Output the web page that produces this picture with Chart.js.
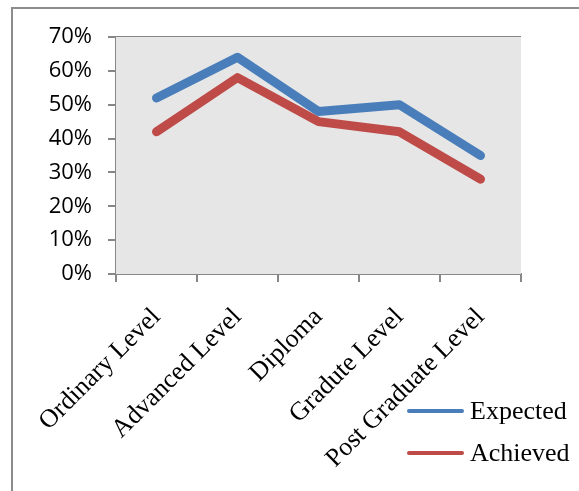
<!DOCTYPE html>
<html>
<head>
<meta charset="utf-8">
<script src="https://cdn.jsdelivr.net/npm/chart.js@4.4.1/dist/chart.umd.min.js"></script>
<style>
  html, body { margin: 0; padding: 0; background: #fff; }
  #wrap { width: 579px; height: 491px; position: relative; }
</style>
</head>
<body>
<div id="wrap"><canvas id="levelsChart"></canvas></div>
<script>
// categories and series (percent)
const levels = ['Ordinary Level', 'Advanced Level', 'Diploma', 'Gradute Level', 'Post Graduate Level'];
const expected = [52, 64, 48, 50, 35];
const achieved = [42, 58, 45, 42, 28];
const yTicks = [0, 10, 20, 30, 40, 50, 60, 70];

const GRID = '#878787';

// grey plot area + outer frame + legend at bottom right
const excelLook = {
    id: 'excelLook',
    beforeDatasetsDraw(chart) {
        const { ctx, chartArea: a } = chart;
        ctx.save();
        ctx.fillStyle = '#e6e6e6';
        ctx.fillRect(a.left, a.top, a.right - a.left, a.bottom - a.top);
        ctx.restore();
    },
    beforeDraw(chart) {
        const { ctx } = chart;
        ctx.save();
        ctx.strokeStyle = '#8c8c8c';
        ctx.lineWidth = 2;
        ctx.beginPath();
        ctx.moveTo(12, 491);
        ctx.lineTo(12, 8);
        ctx.lineTo(579, 8);
        ctx.stroke();
        ctx.restore();
    },
    afterDraw(chart) {
        const { ctx } = chart;
        ctx.save();
        ctx.font = '26px "Liberation Serif"';
        ctx.textBaseline = 'middle';
        chart.data.datasets.forEach((ds, i) => {
            const y = 411 + i * 42;
            ctx.strokeStyle = ds.borderColor;
            ctx.lineWidth = 4;
            ctx.lineCap = 'round';
            ctx.beginPath();
            ctx.moveTo(409, y);
            ctx.lineTo(462, y);
            ctx.stroke();
            ctx.fillStyle = '#000';
            ctx.fillText(ds.label, 470, y + 1);
        });
        ctx.restore();
    }
};

new Chart(document.getElementById('levelsChart'), {
    type: 'line',
    data: {
        labels: levels,
        datasets: [
            { label: 'Expected', data: expected, borderColor: '#4a7ebb' },
            { label: 'Achieved', data: achieved, borderColor: '#be4b48' }
        ]
    },
    options: {
        responsive: true,
        maintainAspectRatio: false,
        animation: false,
        layout: { padding: { top: 37, right: 58, left: 0, bottom: 0 } },
        elements: {
            line: { borderWidth: 9, tension: 0, borderCapStyle: 'round', borderJoinStyle: 'round' },
            point: { radius: 0, hoverRadius: 0 }
        },
        plugins: { legend: { display: false }, tooltip: { enabled: false } },
        scales: {
            x: {
                offset: true,
                grid: { offset: true, drawOnChartArea: false, color: GRID, lineWidth: 2, tickLength: 8 },
                border: { color: GRID, width: 2 },
                ticks: {
                    autoSkip: false,
                    minRotation: 45,
                    maxRotation: 45,
                    padding: 20,
                    color: '#000',
                    font: { family: '"Liberation Serif"', size: 26 }
                },
                afterFit(scale) { scale.height = 491 - 274; }
            },
            y: {
                min: 0,
                max: 70,
                afterBuildTicks(scale) { scale.ticks = yTicks.map(v => ({ value: v })); },
                grid: { color: GRID, lineWidth: 2, tickLength: 8 },
                border: { color: GRID, width: 2 },
                ticks: {
                    padding: 16,
                    color: '#000',
                    font: { family: '"Open Sans"', size: 22 },
                    callback: v => v + '%'
                },
                afterFit(scale) { scale.width = 116; }
            }
        }
    },
    plugins: [excelLook]
});
</script>
</body>
</html>
